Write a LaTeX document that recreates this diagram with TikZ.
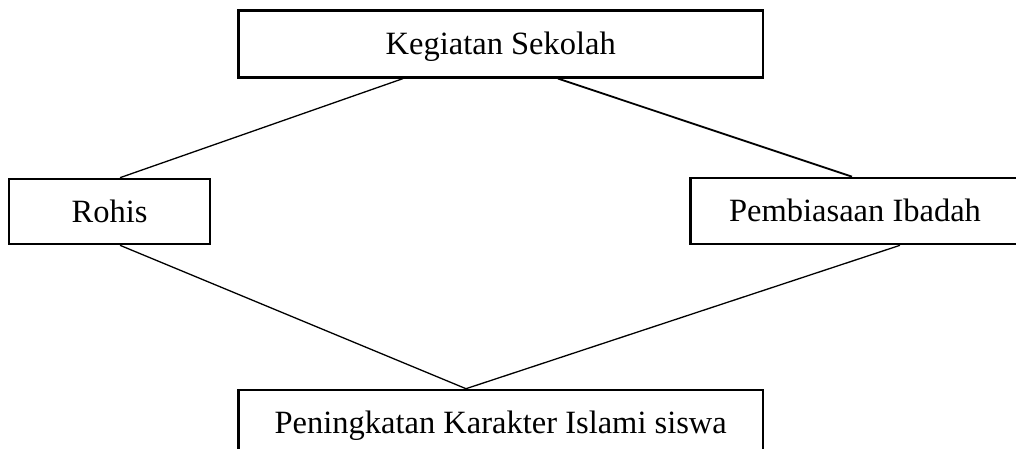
\documentclass[tikz,border=0pt]{standalone}
\usepackage{fontspec}
\setmainfont{Liberation Serif}
\begin{document}
\begin{tikzpicture}[x=1pt,y=-1pt,
  box/.style={draw,line width=2.6pt,rectangle,inner sep=0pt,text height=21.5pt,text depth=0pt,font=\fontsize{32.5}{39}\selectfont},
  link/.style={line width=1.3pt},
  thicklink/.style={line width=1.8pt}]
\useasboundingbox (0,0) rectangle (1016,449);
\node[box,minimum width=524.5pt,minimum height=66.6pt] (top) at (500.75,44) {Kegiatan Sekolah};
\node[box,minimum width=201pt,minimum height=65pt] (rohis) at (109.5,211.5) {Rohis};
\node[box,minimum width=329pt,minimum height=66pt] (pemb) at (855,211) {Pembiasaan Ibadah};
\node[box,minimum width=524.5pt,minimum height=66pt] (bottom) at (500.75,423) {Peningkatan Karakter Islami siswa};
\draw[link] ([xshift=-97.75pt]top.south) -- ([xshift=10.5pt]rohis.north);
\draw[thicklink] ([xshift=57.25pt]top.south) -- ([xshift=-3pt]pemb.north);
\draw[link] ([xshift=10.5pt]rohis.south) -- ([xshift=-34.75pt]bottom.north);
\draw[link] ([xshift=45pt]pemb.south) -- ([xshift=-34.75pt]bottom.north);
\end{tikzpicture}
\end{document}
